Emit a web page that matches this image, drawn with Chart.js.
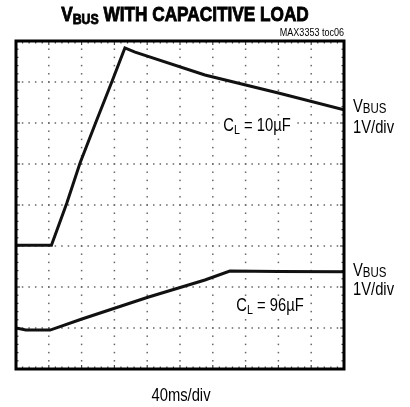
<!DOCTYPE html>
<html>
<head>
<meta charset="utf-8">
<script src="https://cdn.jsdelivr.net/npm/chart.js@4/dist/chart.umd.min.js"></script>
<style>
  body { margin: 0; background: #fff; }
</style>
</head>
<body>
<canvas id="mycanvas" width="410" height="407"></canvas>
<script>
// time in divisions (40ms/div), voltage in divisions (1V/div)
var x10uF = [0, 1.08, 1.55, 1.95, 2.45, 2.92, 3.32, 3.63, 5.76, 8.0, 10];
var v10uF = [3.02, 3.02, 4.05, 5.02, 6.05, 7.0, 7.83, 7.73, 7.17, 6.73, 6.32];

var x96uF = [0, 0.3, 1.04, 2.01, 4.02, 5.76, 6.52, 8.0, 10];
var v96uF = [1.0, 0.95, 0.95, 1.22, 1.75, 2.17, 2.39, 2.38, 2.37];

var xDivs = 10;
var yDivs = 8;

var fontFace = "'Liberation Sans', Arial, sans-serif";
var narrow = 0.82; // horizontal squeeze to mimic a condensed face

// text squeezed horizontally, returns the drawn width
function narrowText(ctx, text, x, y, size, weight, heavy) {
  ctx.font = (weight || 'normal') + ' ' + size + 'px ' + fontFace;
  var w = ctx.measureText(text).width * narrow;
  ctx.save();
  ctx.translate(x, y);
  ctx.scale(narrow, 1);
  ctx.fillText(text, 0, 0);
  if (heavy) {
    ctx.lineWidth = heavy;
    ctx.strokeStyle = ctx.fillStyle;
    ctx.strokeText(text, 0, 0);
  }
  ctx.restore();
  return w;
}

function narrowWidth(ctx, text, size, weight) {
  ctx.font = (weight || 'normal') + ' ' + size + 'px ' + fontFace;
  return ctx.measureText(text).width * narrow;
}

function toPoints(xs, ys) {
  var pts = [];
  for (var i in xs) {
    pts.push({x: xs[i], y: ys[i]});
  }
  return pts;
}

// dotted scope graticule + heavy frame
var scopeGrid = {
  id: 'scopeGrid',
  beforeDatasetsDraw: function(chart) {
    var ctx = chart.ctx;
    var xs = chart.scales.x, ys = chart.scales.y;
    var a = chart.chartArea;
    ctx.save();
    ctx.fillStyle = '#666';
    for (var i = 1; i < xDivs; i++) {
      var px = xs.getPixelForValue(i);
      for (var k = 1; k < yDivs * 5; k++) {
        var py = ys.getPixelForValue(k / 5);
        ctx.fillRect(px - 0.75, py - 0.75, 1.5, 1.5);
      }
    }
    for (var j = 1; j < yDivs; j++) {
      var py2 = ys.getPixelForValue(j);
      for (var m = 1; m < xDivs * 5; m++) {
        var px2 = xs.getPixelForValue(m / 5);
        ctx.fillRect(px2 - 0.75, py2 - 0.75, 1.5, 1.5);
      }
    }
    // small ticks along the frame
    ctx.fillStyle = '#444';
    for (var t = 1; t < xDivs * 5; t++) {
      var tx = xs.getPixelForValue(t / 5);
      var len = (t % 5 === 0) ? 4 : 2.5;
      ctx.fillRect(tx - 0.6, a.bottom - len, 1.2, len);
      ctx.fillRect(tx - 0.6, a.top, 1.2, len);
    }
    for (var u = 1; u < yDivs * 5; u++) {
      var ty = ys.getPixelForValue(u / 5);
      var len2 = (u % 5 === 0) ? 4 : 2.5;
      ctx.fillRect(a.left, ty - 0.6, len2, 1.2);
      ctx.fillRect(a.right - len2, ty - 0.6, len2, 1.2);
    }
    ctx.restore();
  },
  afterDraw: function(chart) {
    var ctx = chart.ctx;
    var a = chart.chartArea;
    ctx.save();
    ctx.strokeStyle = '#000';
    ctx.lineWidth = 3;
    ctx.strokeRect(a.left, a.top, a.right - a.left, a.bottom - a.top);
    ctx.restore();
  }
};

// main text followed by a lowered smaller subscript, returns end x
function subText(ctx, x, y, main, sub, size, subSize, weight, drop, heavy) {
  var w = narrowText(ctx, main, x, y, size, weight, heavy);
  var w2 = narrowText(ctx, sub, x + w, y + drop, subSize, weight, heavy);
  return x + w + w2;
}

function clLabel(ctx, cx, y, value) {
  var rest = ' = ' + value;
  var total = narrowWidth(ctx, 'C', 18) + narrowWidth(ctx, 'L', 13) + narrowWidth(ctx, rest, 18);
  var x0 = cx - total / 2;
  ctx.fillStyle = '#fff';
  ctx.fillRect(x0 - 4, y - 15, total + 8, 20);
  ctx.fillStyle = '#000';
  var end = subText(ctx, x0, y, 'C', 'L', 18, 13, 'normal', 3);
  narrowText(ctx, rest, end, y, 18);
}

var annotations = {
  id: 'annotations',
  beforeDatasetsDraw: function(chart) {
    var ctx = chart.ctx;
    ctx.save();
    ctx.textBaseline = 'alphabetic';
    clLabel(ctx, 257, 131, '10\u00b5F');
    clLabel(ctx, 270, 311, '96\u00b5F');
    ctx.restore();
  },
  afterDraw: function(chart) {
    var ctx = chart.ctx;
    var a = chart.chartArea;
    ctx.save();
    ctx.fillStyle = '#000';
    ctx.textBaseline = 'alphabetic';

    // title
    var tw = narrowWidth(ctx, 'V', 21, 'bold') + narrowWidth(ctx, 'BUS', 15, 'bold') +
             narrowWidth(ctx, ' WITH CAPACITIVE LOAD', 21, 'bold');
    var tx = 185 - tw / 2;
    var end = subText(ctx, tx, 21, 'V', 'BUS', 21, 15, 'bold', 3, 0.9);
    narrowText(ctx, ' WITH CAPACITIVE LOAD', end, 21, 21, 'bold', 0.9);

    // figure id
    var idw = narrowWidth(ctx, 'MAX3353 toc06', 11);
    narrowText(ctx, 'MAX3353 toc06', a.right - idw, 36, 11);

    // channel labels
    var lx = a.right + 9;
    subText(ctx, lx, 112, 'V', 'BUS', 18, 14, 'normal', 1);
    narrowText(ctx, '1V/div', lx, 133, 18);
    subText(ctx, lx, 276, 'V', 'BUS', 18, 14, 'normal', 1);
    narrowText(ctx, '1V/div', lx, 295, 18);

    // time base
    var bw = narrowWidth(ctx, '40ms/div', 18);
    narrowText(ctx, '40ms/div', 181 - bw / 2, 401, 18);
    ctx.restore();
  }
};

var chartdata = {
  datasets: [
    {
      label: 'CL = 10uF',
      data: toPoints(x10uF, v10uF),
      borderColor: '#111',
      borderWidth: 3,
      pointRadius: 0,
      fill: false,
      tension: 0
    },
    {
      label: 'CL = 96uF',
      data: toPoints(x96uF, v96uF),
      borderColor: '#111',
      borderWidth: 3,
      pointRadius: 0,
      fill: false,
      tension: 0
    }
  ]
};

var ctx = document.getElementById('mycanvas');

var scopeChart = new Chart(ctx, {
  type: 'line',
  data: chartdata,
  plugins: [scopeGrid, annotations],
  options: {
    responsive: false,
    devicePixelRatio: 1,
    animation: false,
    layout: { padding: { left: 16, top: 41, right: 66, bottom: 38 } },
    scales: {
      x: { type: 'linear', min: 0, max: xDivs, display: false },
      y: { type: 'linear', min: 0, max: yDivs, display: false }
    },
    plugins: {
      legend: { display: false },
      tooltip: { enabled: false }
    }
  }
});
</script>
</body>
</html>
